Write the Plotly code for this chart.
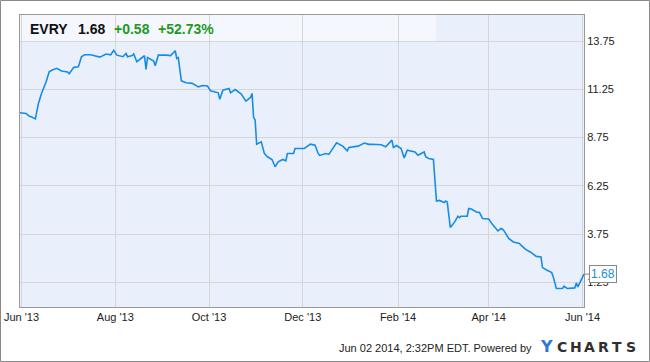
import plotly.graph_objects as go

dates = [
 "2013-05-31","2013-06-04","2013-06-06","2013-06-07","2013-06-10","2013-06-12","2013-06-14","2013-06-17",
 "2013-06-19","2013-06-21","2013-06-24","2013-06-27","2013-07-01","2013-07-02","2013-07-05","2013-07-08",
 "2013-07-10","2013-07-12","2013-07-16","2013-07-22","2013-07-26","2013-07-29","2013-07-31","2013-08-02",
 "2013-08-06","2013-08-08","2013-08-09","2013-08-12","2013-08-13","2013-08-15","2013-08-20","2013-08-21",
 "2013-08-22","2013-08-26","2013-08-27","2013-08-29","2013-09-03","2013-09-06","2013-09-09","2013-09-10",
 "2013-09-11","2013-09-13","2013-09-16","2013-09-20","2013-09-24","2013-09-27","2013-09-30","2013-10-02",
 "2013-10-07","2013-10-08","2013-10-10","2013-10-14","2013-10-15","2013-10-18","2013-10-22","2013-10-25",
 "2013-10-28","2013-10-29","2013-10-30","2013-10-31","2013-11-01","2013-11-04","2013-11-06","2013-11-08",
 "2013-11-11","2013-11-13","2013-11-15","2013-11-18","2013-11-20","2013-11-21","2013-11-25","2013-11-26",
 "2013-12-02","2013-12-06","2013-12-09","2013-12-11","2013-12-12","2013-12-16","2013-12-18","2013-12-23",
 "2013-12-27","2013-12-30","2013-12-31","2014-01-06","2014-01-10","2014-01-13","2014-01-15","2014-01-21",
 "2014-01-24","2014-01-28","2014-01-29","2014-01-31","2014-02-03","2014-02-05","2014-02-07","2014-02-12",
 "2014-02-14","2014-02-18","2014-02-19","2014-02-21","2014-02-24","2014-02-25","2014-02-26","2014-02-28",
 "2014-03-03","2014-03-04","2014-03-05","2014-03-07","2014-03-10","2014-03-12","2014-03-13","2014-03-14",
 "2014-03-18","2014-03-19","2014-03-21","2014-03-24","2014-03-26","2014-03-28","2014-04-01","2014-04-03",
 "2014-04-07","2014-04-09","2014-04-10","2014-04-11","2014-04-14","2014-04-17","2014-04-21","2014-04-22",
 "2014-04-24","2014-04-25","2014-04-28","2014-05-01","2014-05-02","2014-05-05","2014-05-06","2014-05-09",
 "2014-05-12","2014-05-13","2014-05-15","2014-05-19","2014-05-20","2014-05-22","2014-05-27","2014-05-28",
 "2014-05-29","2014-06-02"]

prices = [
 10.04,10.00,9.86,9.84,9.72,10.52,11.04,11.64,
 12.16,12.25,12.34,12.20,12.15,12.06,12.39,12.42,
 12.94,13.04,13.04,12.92,13.08,13.04,13.27,13.02,
 12.94,13.11,12.94,13.00,13.08,12.68,12.99,12.28,
 12.90,12.72,12.47,13.02,13.02,13.00,13.25,12.85,
 12.90,11.69,11.59,11.56,11.38,11.45,11.42,11.17,
 11.07,10.74,11.21,11.30,11.07,11.24,11.00,10.64,
 10.83,11.04,9.80,9.66,8.41,8.53,7.93,7.76,
 7.62,7.24,7.50,7.62,7.55,7.93,7.93,8.19,
 8.19,8.41,8.36,7.93,7.83,7.93,7.88,8.48,
 8.31,8.07,8.24,8.31,8.47,8.40,8.41,8.38,
 8.28,8.62,8.24,8.34,8.19,7.70,8.10,8.01,
 7.84,8.01,7.76,7.67,7.62,6.72,5.47,5.50,
 5.39,5.47,5.42,4.10,4.40,4.68,4.61,4.68,
 4.68,5.08,5.04,4.90,4.87,4.56,4.54,4.30,
 3.92,4.05,4.01,3.92,3.53,3.35,3.27,3.18,
 3.06,2.96,2.83,2.66,2.60,2.57,2.02,1.88,
 1.76,1.54,0.94,0.94,1.06,0.94,0.97,1.23,
 1.02,1.68]

ytick_vals = [1.25, 3.75, 6.25, 8.75, 11.25, 13.75]
ticker = "EVRY"
last_price = "1.68"
change = "+0.58"
change_pct = "+52.73%"
footer = "Jun 02 2014, 2:32PM EDT. Powered by"
brand_first = "Y"
brand_rest = "CHARTS"

L, R, T, B = 20, 584, 15, 307
W, H = 650, 362
pw, ph = R - L, B - T
def px(x): return (x - L) / pw
def py(y): return (B - y) / ph

fig = go.Figure()
fig.add_trace(go.Scatter(x=dates, y=prices, mode="lines",
                         line=dict(color="#168ce6", width=1.6), hoverinfo="skip"))

fig.update_layout(
    width=W, height=H,
    margin=dict(l=L, r=W - R, t=T, b=H - B, autoexpand=False),
    paper_bgcolor="white", plot_bgcolor="#e9f0fb",
    showlegend=False,
    font=dict(family="Liberation Sans, Arial, sans-serif", size=11, color="#222"),
    xaxis=dict(range=["2013-05-31", "2014-06-02"], type="date",
               tick0="2013-06-01", dtick="M2", tickformat="%b '%y",
               showgrid=True, gridcolor="#d6d6d6", gridwidth=1,
               showline=True, linecolor="#999", mirror=True, zeroline=False,
               ticks="", automargin=False,
               tickfont=dict(size=11, color="#222")),
    yaxis=dict(range=[-0.02, 15.1], side="right", tickvals=ytick_vals,
               ticktext=[f"{v:.2f}" for v in ytick_vals],
               showgrid=True, gridcolor="#d6d6d6", gridwidth=1,
               showline=True, linecolor="#999", mirror=True, zeroline=False,
               ticks="", automargin=False,
               tickfont=dict(size=11, color="#222")),
)

# header band
fig.add_shape(type="rect", xref="x domain", yref="y domain",
              x0=0, x1=px(436), y0=py(41), y1=1, layer="below",
              fillcolor="#f4f7fd", line=dict(width=0))
# outer border
fig.add_shape(type="rect", xref="paper", yref="paper",
              x0=px(0.5), x1=px(649.5), y0=py(361.5), y1=py(0.5),
              line=dict(color="#8a8a8a", width=1), fillcolor="rgba(0,0,0,0)")

hdr_y = py(28.5)
for txt, x, col in [(ticker, 28, "#111"), (last_price, 76, "#111"),
                    (change, 112, "#1e9a1e"), (change_pct, 156, "#1e9a1e")]:
    fig.add_annotation(xref="paper", yref="paper", x=px(x), y=hdr_y,
                       xanchor="left", yanchor="middle", showarrow=False,
                       text=f"<b>{txt}</b>", font=dict(size=14, color=col))

# last value label
fig.add_annotation(x=dates[-1], y=prices[-1], xref="x", yref="y",
                   text=last_price, showarrow=True, arrowhead=0, arrowwidth=1,
                   arrowcolor="#888", ax=5, ay=0, xanchor="left",
                   bgcolor="white", bordercolor="#888", borderwidth=1, borderpad=1,
                   font=dict(size=12, color="#1a8ae0"))

# footer
fig.add_annotation(xref="paper", yref="paper", x=px(534), y=py(347.5),
                   xanchor="right", yanchor="middle", showarrow=False,
                   text=footer, font=dict(size=11, color="#222"))
fig.add_annotation(xref="paper", yref="paper", x=px(546.5), y=py(346.5),
                   xanchor="center", yanchor="middle", showarrow=False,
                   text=f"<b>{brand_first}</b>", font=dict(size=16, color="#2f78d8",
                   family="DejaVu Sans, sans-serif"))
letter_w = 83 / len(brand_rest)
for i, ch in enumerate(brand_rest):
    fig.add_annotation(xref="paper", yref="paper", x=px(555 + letter_w * (i + 0.5)), y=py(346.5),
                       xanchor="center", yanchor="middle", showarrow=False,
                       text=f"<b>{ch}</b>", font=dict(size=14, color="#2f2f2f",
                       family="DejaVu Sans, sans-serif"))

fig.write_html("out.html")
